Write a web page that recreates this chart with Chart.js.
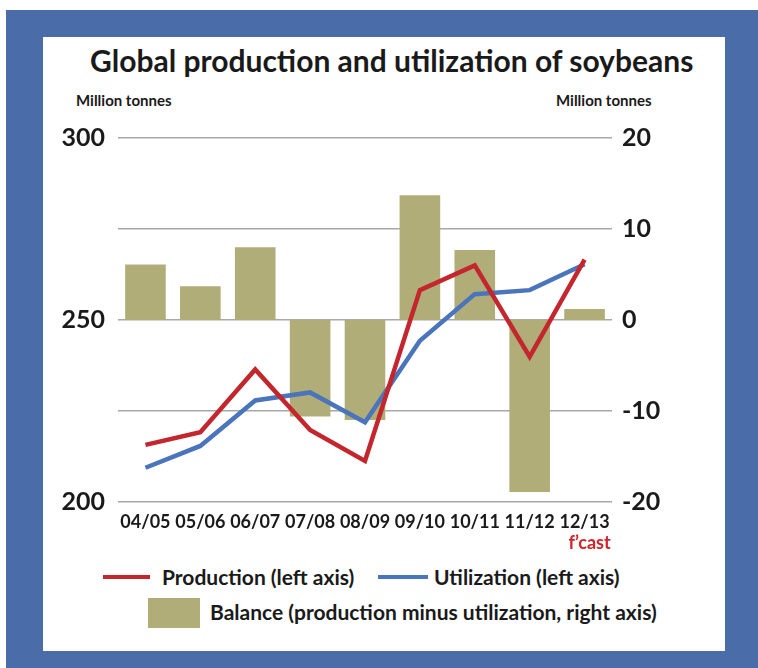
<!DOCTYPE html>
<html>
<head>
<meta charset="utf-8">
<script src="https://cdn.jsdelivr.net/npm/chart.js@4.4.1/dist/chart.umd.min.js"></script>
<style>
  html, body { margin: 0; padding: 0; background: #fff; }
  body { width: 758px; height: 668px; position: relative; overflow: hidden; font-family: Lato, "Open Sans", sans-serif; color: #1a1a1a; }
  #frame { position: absolute; left: 6px; top: 10px; width: 752px; height: 658px; background: #4a6ca8; }
  #panel { position: absolute; left: 43px; top: 37px; width: 682px; height: 614px; background: #fff; }
  #title { position: absolute; left: 90px; top: 42px; white-space: nowrap; font-weight: bold; font-size: 30px; }
  .unit { position: absolute; top: 91px; font-weight: bold; font-size: 15px; }
  #wrap { position: absolute; left: 43px; top: 110px; width: 682px; height: 450px; }
  .leg { position: absolute; font-weight: bold; font-size: 21px; line-height: 22px; white-space: nowrap; }
  .swatch { position: absolute; }
</style>
</head>
<body>
<div id="frame"></div>
<div id="panel"></div>
<div id="title">Global production and utilization of soybeans</div>
<div class="unit" style="left:76px">Million tonnes</div>
<div class="unit" style="left:556px">Million tonnes</div>
<div id="wrap"><canvas id="grafico"></canvas></div>

<div class="swatch" style="left:103px; top:575px; width:47px; height:4px; background:#c3262c"></div>
<div class="leg" style="left:162px; top:566px">Production (left axis)</div>
<div class="swatch" style="left:378px; top:575px; width:50px; height:4px; background:#4a74bb"></div>
<div class="leg" style="left:434px; top:566px">Utilization (left axis)</div>
<div class="swatch" style="left:148px; top:598px; width:52px; height:30px; background:#b1ad78"></div>
<div class="leg" style="left:210px; top:601px">Balance (production minus utilization, right axis)</div>

<script>
const anos = ['04/05', '05/06', '06/07', '07/08', '08/09', '09/10', '10/11', '11/12', '12/13'];
const producao = [215.7, 219.2, 236.4, 219.8, 211.3, 258.2, 265.0, 239.9, 266.6];
const utilizacao = [209.4, 215.4, 227.9, 230.1, 221.9, 244.3, 257.1, 258.2, 265.3];
const saldo = [6.1, 3.7, 8.0, -10.6, -11.0, 13.7, 7.7, -18.9, 1.2];
const rotulosEsquerda = [200, 250, 300];

const corTexto = '#1a1a1a';

// escreve "f'cast" em vermelho abaixo da última safra
const previsao = {
    id: 'previsao',
    afterDraw(chart) {
        const x = chart.scales.x.getPixelForValue(anos.length - 1);
        const ctx = chart.ctx;
        ctx.save();
        ctx.fillStyle = '#d2232a';
        ctx.font = 'bold 18px Lato';
        ctx.textAlign = 'center';
        ctx.textBaseline = 'middle';
        ctx.fillText('f\u2019cast', x + 5, chart.chartArea.bottom + 41);
        ctx.restore();
    }
};

new Chart(document.getElementById('grafico'), {
    data: {
        labels: anos,
        datasets: [
            {
                type: 'line',
                label: 'Production (left axis)',
                data: producao,
                yAxisID: 'y',
                borderColor: '#c3262c',
                borderWidth: 4.5,
                pointRadius: 0,
                tension: 0,
                order: 1
            },
            {
                type: 'line',
                label: 'Utilization (left axis)',
                data: utilizacao,
                yAxisID: 'y',
                borderColor: '#4a74bb',
                borderWidth: 4.5,
                pointRadius: 0,
                tension: 0,
                order: 2
            },
            {
                type: 'bar',
                label: 'Balance (production minus utilization, right axis)',
                data: saldo,
                yAxisID: 'y1',
                backgroundColor: '#b1ad78',
                categoryPercentage: 1,
                barPercentage: 0.74,
                order: 3
            }
        ]
    },
    options: {
        responsive: true,
        maintainAspectRatio: false,
        animation: false,
        layout: { padding: { top: 25, left: 0, right: 0, bottom: 0 } },
        plugins: {
            legend: { display: false },
            tooltip: { enabled: false }
        },
        scales: {
            x: {
                grid: { display: false, drawTicks: false },
                border: { display: false },
                ticks: {
                    color: corTexto,
                    font: { family: 'Lato', weight: 'bold', size: 18 },
                    padding: 9,
                    maxRotation: 0,
                    autoSkip: false
                },
                afterFit(scale) { scale.height = 58; }
            },
            y: {
                position: 'left',
                min: 200,
                max: 300,
                grid: { color: '#a8a8a8', lineWidth: 1.5, drawTicks: false },
                border: { display: false },
                ticks: {
                    stepSize: 25,
                    color: corTexto,
                    font: { family: 'Lato', weight: 'bold', size: 25 },
                    padding: 13,
                    callback: (v) => rotulosEsquerda.includes(v) ? v : ''
                },
                afterFit(scale) { scale.width = 75; }
            },
            y1: {
                position: 'right',
                min: -20,
                max: 20,
                grid: { display: false, drawTicks: false },
                border: { display: false },
                ticks: {
                    stepSize: 10,
                    color: corTexto,
                    font: { family: 'Lato', weight: 'bold', size: 25 },
                    padding: 10
                },
                afterFit(scale) { scale.width = 113; }
            }
        }
    },
    plugins: [previsao]
});
</script>
</body>
</html>
